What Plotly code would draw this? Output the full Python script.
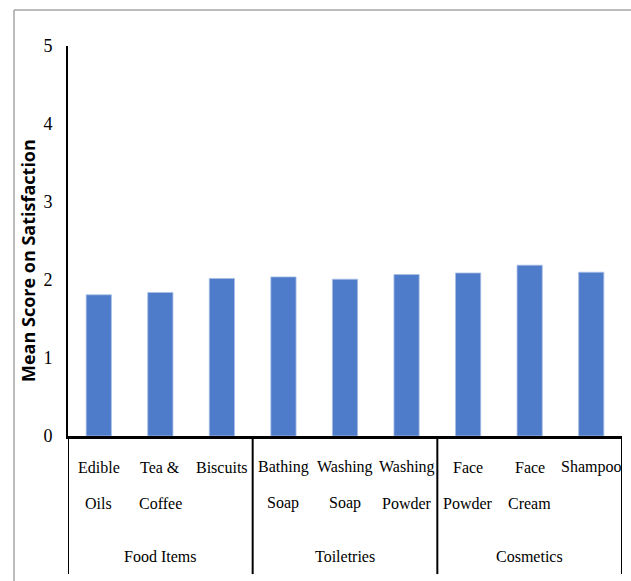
import plotly.graph_objects as go

categories = ["Edible Oils", "Tea & Coffee", "Biscuits",
              "Bathing Soap", "Washing Soap", "Washing Powder",
              "Face Powder", "Face Cream", "Shampoo"]
mean_scores = [1.81, 1.84, 2.02, 2.04, 2.01, 2.07, 2.09, 2.19, 2.10]
groups = ["Food Items", "Toiletries", "Cosmetics"]
group_sizes = [3, 3, 3]
y_ticks = [0, 1, 2, 3, 4, 5]
y_title = "Mean Score on Satisfaction"

BAR = "#4e7cca"
SERIF = "Liberation Serif"

fig = go.Figure()
fig.add_trace(go.Bar(
    x=list(range(len(categories))), y=mean_scores,
    marker=dict(color=BAR, line=dict(color="#a9bfe6", width=0.8)),
    width=0.41, hoverinfo="skip",
))

annotations = []
# category labels (split into two lines)
for i, name in enumerate(categories):
    parts = name.rsplit(" ", 1) if " " in name else [name]
    ys = [-0.0795, -0.172]
    for j, p in enumerate(parts):
        annotations.append(dict(
            x=i, y=ys[j], xref="x", yref="paper", text=p, showarrow=False,
            xanchor="center", yanchor="middle",
            font=dict(family=SERIF, size=16, color="black")))

shapes = []
start = 0
bounds = [-0.5]
for g, n in zip(groups, group_sizes):
    center = start + (n - 1) / 2
    annotations.append(dict(
        x=center, y=-0.308, xref="x", yref="paper", text=g, showarrow=False,
        xanchor="center", yanchor="middle",
        font=dict(family=SERIF, size=16, color="black")))
    start += n
    bounds.append(start - 0.5)

for b in bounds:
    shapes.append(dict(type="line", xref="x", yref="paper", x0=b, x1=b,
                       y0=0, y1=-0.354, line=dict(color="black", width=2)))

# outer frame (left and top gray lines)
shapes.append(dict(type="line", xref="paper", yref="paper", x0=-0.0975, x1=-0.0975,
                   y0=1.092, y1=-0.4, line=dict(color="#a6a6a6", width=1.5)))
shapes.append(dict(type="line", xref="paper", yref="paper", x0=-0.0975, x1=1.02,
                   y0=1.092, y1=1.092, line=dict(color="#a6a6a6", width=1.5)))

annotations.append(dict(
    x=-0.072, y=0.449, xref="paper", yref="paper", text=f"<b>{y_title}</b>",
    showarrow=False, textangle=-90, xanchor="center", yanchor="middle",
    font=dict(family="Open Sans", size=18, color="black")))

fig.update_layout(
    width=631, height=581,
    margin=dict(l=68, r=9, t=46, b=145),
    paper_bgcolor="white", plot_bgcolor="white",
    showlegend=False,
    xaxis=dict(range=[-0.5, 8.5], showticklabels=False, ticks="",
               showgrid=False, zeroline=False,
               showline=True, linecolor="black", linewidth=3),
    yaxis=dict(range=[0, 5], tickvals=y_ticks, ticks="",
               ticklabelstandoff=10,
               tickfont=dict(family=SERIF, size=18, color="black"),
               showgrid=False, zeroline=False,
               showline=True, linecolor="black", linewidth=2),
    annotations=annotations,
    shapes=shapes,
)

fig.write_html("out.html")
